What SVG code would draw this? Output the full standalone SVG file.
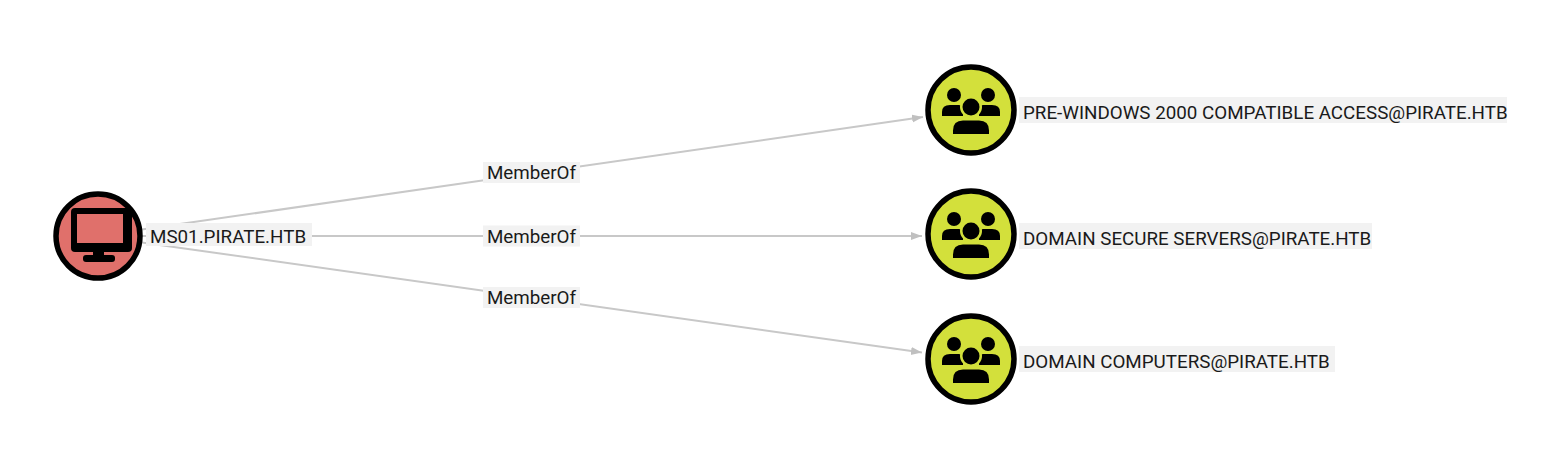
<svg xmlns="http://www.w3.org/2000/svg" xmlns:xlink="http://www.w3.org/1999/xlink" width="1549" height="476" viewBox="0 0 1549 476">
<style>
.edge{stroke:#c8c8c8;stroke-width:2;fill:none}
.lblbg{fill:#f2f2f2}
.lbl{font-family:Roboto,"Liberation Sans",sans-serif;font-size:18.8px;fill:#1a1a1a}
.elbl{font-family:Roboto,"Liberation Sans",sans-serif;font-size:18.8px;fill:#1a1a1a;text-anchor:middle}
.ring{stroke:#000;stroke-width:5.5}
.comp{fill:#e0706b}
.grp{fill:#d3e03b}
</style>
<defs>
<marker id="arr" markerWidth="12" markerHeight="10" refX="11" refY="5" orient="auto" markerUnits="userSpaceOnUse">
<path d="M0,1 L11,5 L0,9 Z" fill="#c0c0c0"/>
</marker>
<g id="usersIcon">
<circle cx="-17" cy="-15" r="7" fill="#000"/>
<circle cx="17" cy="-15" r="7" fill="#000"/>
<path d="M-29,6 L-29,2 Q-29,-5 -21,-5 L-12,-5 Q-8,-5 -8,2 L-8,6 Z" fill="#000"/>
<path d="M29,6 L29,2 Q29,-5 21,-5 L12,-5 Q8,-5 8,2 L8,6 Z" fill="#000"/>
<circle cx="0" cy="-3" r="11" fill="#d3e03b"/>
<circle cx="0" cy="-3" r="8.5" fill="#000"/>
<path d="M-21,26 L-21,21 Q-21,8 -9,8 L9,8 Q21,8 21,21 L21,26 Z" fill="#d3e03b"/>
<path d="M-18,24 L-18,20.5 Q-18,10.5 -8,10.5 L8,10.5 Q18,10.5 18,20.5 L18,24 Z" fill="#000"/>
</g>
</defs>
<rect width="1549" height="476" fill="#ffffff"/>
<g id="connectors">
<line class="edge" x1="140" y1="229.8" x2="923" y2="117" marker-end="url(#arr)"/>
<line class="edge" x1="140" y1="236" x2="922" y2="236" marker-end="url(#arr)"/>
<line class="edge" x1="140" y1="242.2" x2="922" y2="352.5" marker-end="url(#arr)"/>
<g id="edge-label-1"><rect class="lblbg" x="483" y="162" width="97" height="21"/><text class="elbl" x="531.5" y="179">MemberOf</text></g>
<g id="edge-label-2"><rect class="lblbg" x="483" y="225.5" width="97" height="21"/><text class="elbl" x="531.5" y="242.5">MemberOf</text></g>
<g id="edge-label-3"><rect class="lblbg" x="483" y="287" width="97" height="21"/><text class="elbl" x="531.5" y="304">MemberOf</text></g>
</g>
<g id="node-ms01">
<circle class="comp ring" cx="98" cy="236" r="42"/>
<rect x="71" y="208" width="61" height="44" rx="4" fill="#000"/>
<rect x="77" y="214" width="46" height="29" fill="#e0706b"/>
<rect x="93" y="250" width="11" height="7" fill="#000"/>
<rect x="83" y="255" width="32" height="7" rx="3" fill="#000"/>
<rect class="lblbg" x="146" y="223" width="166" height="23"/>
<text class="lbl" x="150" y="242.5">MS01.PIRATE.HTB</text>
</g>
<g id="node-prewin2000">
<circle class="grp ring" cx="971" cy="110" r="43"/>
<use xlink:href="#usersIcon" x="971" y="110"/>
<rect class="lblbg" x="1019" y="97" width="488" height="26"/>
<text class="lbl" x="1023" y="119">PRE-WINDOWS 2000 COMPATIBLE ACCESS@PIRATE.HTB</text>
</g>
<g id="node-securesrv">
<circle class="grp ring" cx="971" cy="234" r="43"/>
<use xlink:href="#usersIcon" x="971" y="234"/>
<rect class="lblbg" x="1019" y="223" width="353" height="26"/>
<text class="lbl" x="1023" y="245">DOMAIN SECURE SERVERS@PIRATE.HTB</text>
</g>
<g id="node-domcomputers">
<circle class="grp ring" cx="971" cy="359" r="43"/>
<use xlink:href="#usersIcon" x="971" y="359"/>
<rect class="lblbg" x="1019" y="346" width="316" height="26"/>
<text class="lbl" x="1023" y="368">DOMAIN COMPUTERS@PIRATE.HTB</text>
</g>
</svg>
